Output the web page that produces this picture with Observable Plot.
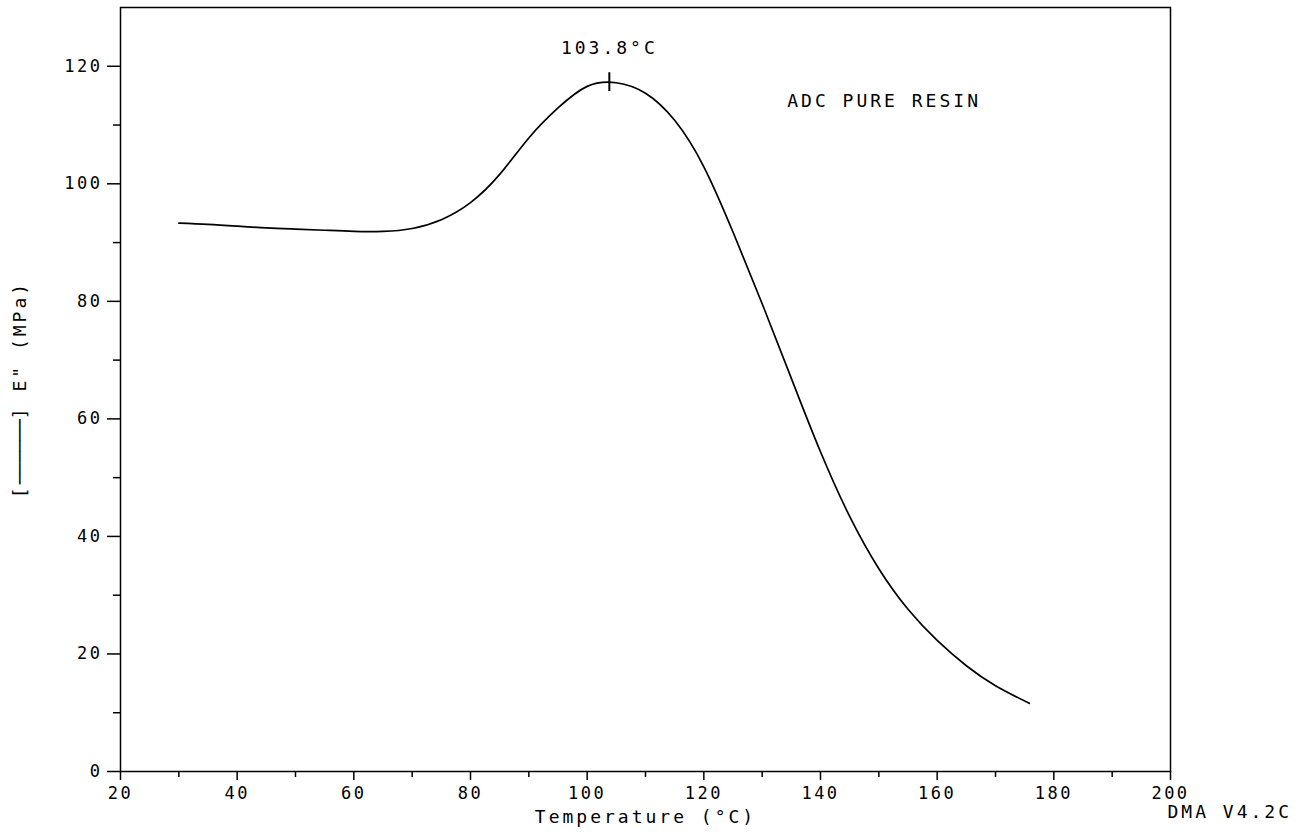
<!DOCTYPE html>
<html>
<head>
<meta charset="utf-8">
<script src="https://cdn.jsdelivr.net/npm/d3@7"></script>
<script src="https://cdn.jsdelivr.net/npm/@observablehq/plot@0.6"></script>
<style>
  html, body { margin: 0; padding: 0; background: #fff; }
  #chart svg text { letter-spacing: 2.5px; }
  #chart svg text.big { letter-spacing: 3px; }
</style>
</head>
<body>
<div id="chart"></div>
<script>
// Temperature (°C) and loss modulus E" (MPa)
const temps = [30, 35, 40, 45, 50, 55, 60, 65, 70, 75, 80, 85, 90, 95, 100, 105, 110, 115, 120, 125, 130, 135, 140, 145, 150, 155, 160, 165, 170, 175.8];
const lossModulus = [93.3, 93.1, 92.8, 92.5, 92.3, 92.1, 91.9, 91.9, 92.4, 93.9, 96.8, 101.6, 107.8, 112.9, 116.58, 117.2, 115.42, 110.8, 102.9, 91.8, 79.6, 66.9, 54.4, 43.4, 34.5, 27.6, 22.3, 18.0, 14.6, 11.6];

const xMajorTicks = [20, 40, 60, 80, 100, 120, 140, 160, 180, 200];
const xMinorTicks = [30, 50, 70, 90, 110, 130, 150, 170, 190];
const yMajorTicks = [0, 20, 40, 60, 80, 100, 120];
const yMinorTicks = [10, 30, 50, 70, 90, 110];

const peakTemp = 103.8;
const peakValue = 117.3;
const peakLabel = "103.8°C";
const sampleLabel = "ADC PURE RESIN";
const sampleLabelPos = [134.3, 114];
const versionLabel = "DMA V4.2C";
const xLabel = "Temperature (°C)";
const yLabel = "[──────] E\" (MPa)";

const data = temps.map((t, i) => ({t, e: lossModulus[i]}));
const peak = [{t: peakTemp, e: peakValue}];

const chart = Plot.plot({
  width: 1306,
  height: 835,
  marginLeft: 120,
  marginRight: 136,
  marginTop: 7,
  marginBottom: 64,
  x: {domain: [20, 200]},
  y: {domain: [0, 130]},
  style: {fontFamily: "'DejaVu Sans Mono', monospace", fontSize: "17px", color: "black", background: "white"},
  marks: [
    Plot.frame({stroke: "black", strokeWidth: 1.5}),
    Plot.axisX({ticks: xMajorTicks, tickSize: 9, tickPadding: 6, strokeWidth: 1.5, tickFormat: d => String(d), label: null}),
    Plot.axisX({ticks: xMinorTicks, tickSize: 6, strokeWidth: 1.5, tickFormat: () => "", label: null}),
    Plot.axisY({ticks: yMajorTicks, tickSize: 13, tickPadding: 5, strokeWidth: 1.5, tickFormat: d => String(d), label: null}),
    Plot.axisY({ticks: yMinorTicks, tickSize: 7, strokeWidth: 1.5, tickFormat: () => "", label: null}),
    Plot.line(data, {x: "t", y: "e", curve: "natural", stroke: "black", strokeWidth: 1.7}),
    Plot.ruleX(peak, {x: "t", y1: d => d.e - 1.6, y2: d => d.e + 1.6, stroke: "black", strokeWidth: 2}),
    Plot.text(peak, {x: "t", y: "e", text: () => peakLabel, dy: -34, fontSize: 18}),
    Plot.text([sampleLabel], {x: () => sampleLabelPos[0], y: () => sampleLabelPos[1], text: d => d, textAnchor: "start", fontSize: 18}),
    Plot.text([versionLabel], {frameAnchor: "bottom-right", text: d => d, textAnchor: "start", dx: -3, dy: 46, fontSize: 18}),
    Plot.text([xLabel], {frameAnchor: "bottom", text: d => d, dy: 51, fontSize: 18}),
    Plot.text([yLabel], {frameAnchor: "left", text: d => d, rotate: -90, dx: -100, fontSize: 18})
  ]
});

// Annotation texts get slightly wider spacing, like the plotter font
d3.select(chart).selectAll("text").each(function() {
  const s = this.textContent;
  if (s === peakLabel || s === sampleLabel || s === versionLabel || s === xLabel) {
    this.setAttribute("class", "big");
  }
  if (s === yLabel) {
    const node = d3.select(this);
    node.text(null).attr("class", "big").attr("text-anchor", "middle");
    node.append("tspan").text("[");
    node.append("tspan").style("letter-spacing", "0px").text("──────");
    node.append("tspan").text("] E\" (MPa)");
  }
});

document.getElementById("chart").appendChild(chart);
</script>
</body>
</html>
